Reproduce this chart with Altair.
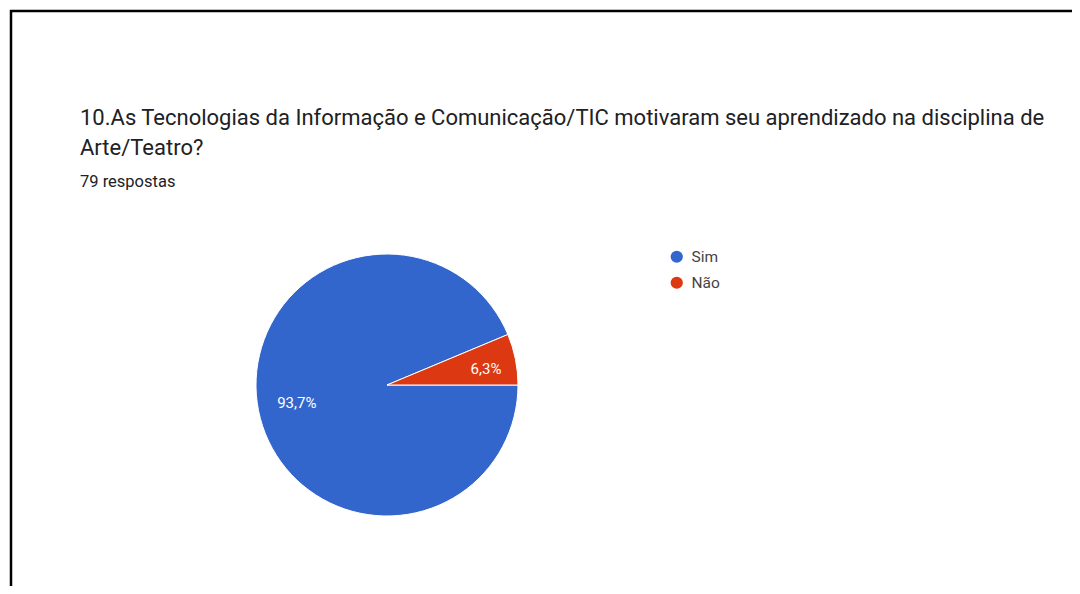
import math
import altair as alt
import pandas as pd

# ---- data ----
categories = ["Sim", "Não"]
values = [93.7, 6.3]
labels = ["93,7%", "6,3%"]
colors = ["#3366cc", "#dc3912"]
title_lines = [
    "10.As Tecnologias da Informação e Comunicação/TIC motivaram seu aprendizado na  disciplina de",
    "Arte/Teatro?",
]
subtitle = "79 respostas"

df = pd.DataFrame({"resposta": categories, "pct": values, "rotulo": labels, "ordem": [0, 1]})

W, H = 1064, 578
CX, CY = 377, 375
R = 131
FONT = "Roboto"

theta_scale = alt.Scale(domain=[0, 100], range=[math.pi / 2, math.pi / 2 + 2 * math.pi])
color_scale = alt.Scale(domain=categories, range=colors)

pie = alt.Chart(df).mark_arc(outerRadius=R, stroke="white", strokeWidth=1).encode(
    theta=alt.Theta("pct:Q", stack=True, scale=theta_scale),
    order=alt.Order("ordem:Q"),
    color=alt.Color(
        "resposta:N",
        scale=color_scale,
        sort=categories,
        legend=alt.Legend(
            title=None,
            orient="none",
            legendX=659,
            legendY=239,
            symbolType="circle",
            symbolSize=150,
            symbolStrokeWidth=0,
            labelFont=FONT,
            labelFontSize=15.5,
            labelColor="#444444",
            labelOffset=7,
            rowPadding=9,
        ),
    ),
    x=alt.value(CX),
    y=alt.value(CY),
)

text_base = (
    alt.Chart(df)
    .transform_stack(stack="pct", groupby=[], as_=["s0", "s1"], sort=[alt.SortField("ordem")])
    .transform_calculate(mid="(datum.s0 + datum.s1) / 2")
)

def pie_label(cat, radius, dy):
    return (
        text_base.transform_filter(alt.datum.resposta == cat)
        .mark_text(radius=radius, font=FONT, fontSize=15, color="white", align="center",
                   baseline="middle", dy=dy)
        .encode(
            theta=alt.Theta("mid:Q", scale=theta_scale),
            text="rotulo:N",
            x=alt.value(CX),
            y=alt.value(CY),
        )
    )

lab_sim = pie_label("Sim", 92, 0)
lab_nao = pie_label("Não", 101, 4)

def text_line(txt, y, size, color):
    return alt.Chart(pd.DataFrame({"t": [txt]})).mark_text(
        align="left", baseline="middle", font=FONT, fontSize=size, color=color
    ).encode(text="t:N", x=alt.value(70), y=alt.value(y))

t1 = text_line(title_lines[0], 108, 22, "#202124")
t2 = text_line(title_lines[1], 138, 22, "#202124")
t3 = text_line(subtitle, 172, 16.5, "#202124")

border_df = pd.DataFrame({"k": [0]})
left_border = alt.Chart(border_df).mark_rule(color="black", strokeWidth=2.5).encode(
    x=alt.value(1), y=alt.value(0), y2=alt.value(H)
)
top_border = alt.Chart(border_df).mark_rule(color="black", strokeWidth=2.5).encode(
    x=alt.value(0), x2=alt.value(W), y=alt.value(1)
)

chart = (
    alt.layer(pie, lab_sim, lab_nao, t1, t2, t3, left_border, top_border)
    .resolve_scale(theta="shared")
    .properties(
        width=W,
        height=H,
        padding=0,
        autosize=alt.AutoSizeParams(type="fit", contains="padding"),
        background="white",
    )
    .configure_view(stroke=None)
)

chart.save("out.html", embed_options={"renderer": "svg", "actions": False})
